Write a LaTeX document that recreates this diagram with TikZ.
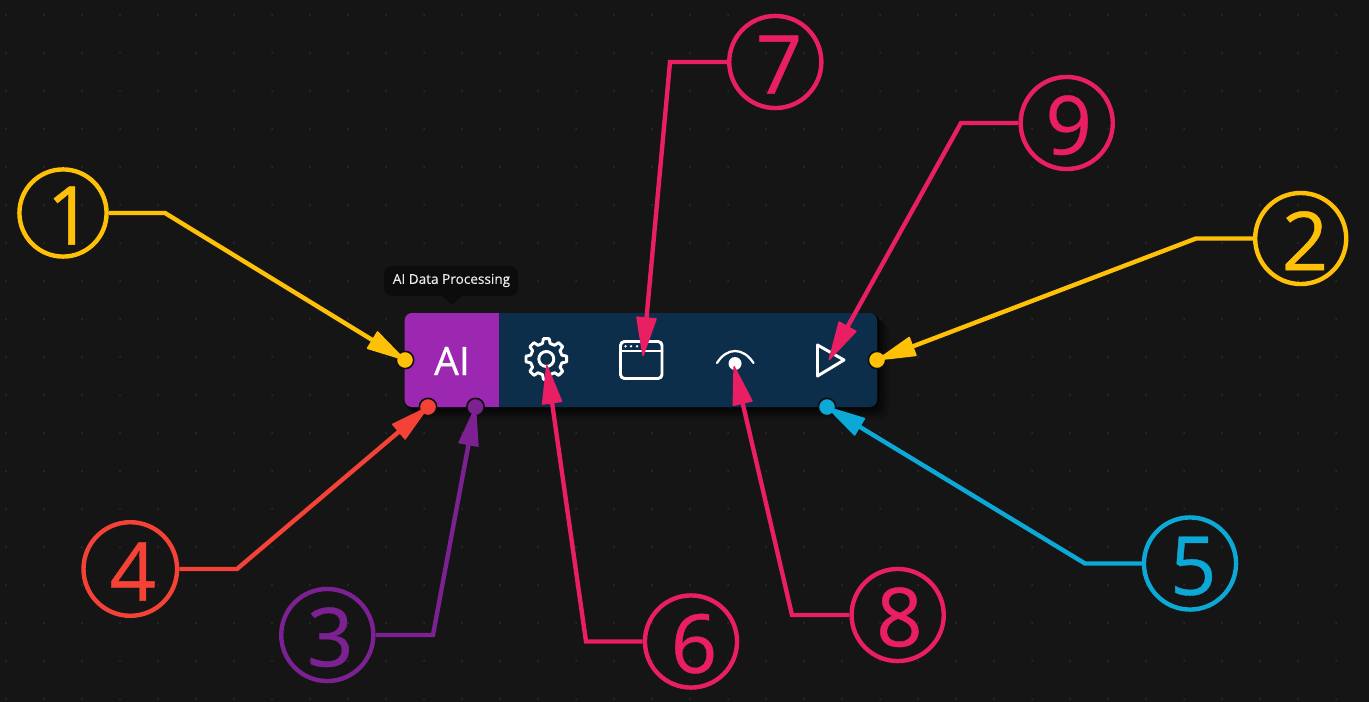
\documentclass[tikz,border=0pt]{standalone}
\usepackage{fontspec}
\setmainfont{Open Sans}
\newfontfamily\numfont[FakeBold=0.5]{Open Sans}
\newfontfamily\tipfont[FakeBold=0.25]{Open Sans}
\newfontfamily\aifont[FakeBold=0.6]{Open Sans}
\usetikzlibrary{arrows.meta}
\definecolor{bgc}{HTML}{151515}
\definecolor{gridc}{HTML}{2E2E2E}
\definecolor{yel}{HTML}{FFC107}
\definecolor{pnk}{HTML}{E91E63}
\definecolor{redc}{HTML}{F44336}
\definecolor{pur}{HTML}{7C2192}
\definecolor{blu}{HTML}{0CA8D6}
\definecolor{aic}{HTML}{9C27B0}
\definecolor{navy}{HTML}{0D2E4A}
\definecolor{tipc}{HTML}{0C0C0C}
% digit shifted right by #1 px and down by about 2.7 px inside its circle
\newcommand{\dgt}[2]{\hspace*{\dimexpr #1pt*3/2\relax}#2\rule{0pt}{47.5pt}}
\tikzset{
  num/.style={circle,draw=#1,text=#1,line width=3.3pt,minimum size=69.1pt,inner sep=0pt,font=\numfont\fontsize{61}{61}\selectfont},
  lead/.style={draw=#1,line width=3.3pt,line join=miter,-{Triangle[length=31pt,width=15.5pt,sep=0pt,round,line width=1.2pt]}},
  port/.style={circle,fill=#1,draw=black!30!bgc,line width=1.2pt,minimum size=13pt,inner sep=0pt},
  icon/.style={draw=white,line width=2.2pt,line join=round,line cap=round},
  target/.style={circle,minimum size=0pt,inner sep=0pt},
}
\begin{document}
\begin{tikzpicture}[x=0.75pt,y=-0.75pt]
\useasboundingbox (0,0) rectangle (1369,702);
\fill[bgc] (0,0) rectangle (1369,702);
\foreach \i in {0,...,35}{\foreach \j in {0,...,18}{
  \fill[gridc] ({6+38*\i},{15+38*\j}) circle[radius=1];
}}
% shadow
\foreach \s/\o in {12/.12,9/.18,6/.25,3/.35}{
  \fill[black,opacity=\o,rounded corners=7pt] ({404+\s-3},{313+\s-3}) rectangle ({877+\s},{407+\s});
}
% bar
\fill[navy,rounded corners=5.5pt] (404.6,313) rectangle (877,407);
\fill[aic,rounded corners=5.5pt] (404.6,313) rectangle (480,407);
\fill[aic] (440,313) rectangle (499,407);
\node[text=white,font=\aifont\fontsize{29.5}{30}\selectfont] (ai) at (452,361) {AI};
% tooltip
\fill[tipc,rounded corners=6pt] (384,266) rectangle (518,296);
\fill[tipc] (441,295) -- (452,305) -- (463,295) -- cycle;
\node[text=white!92!black,font=\tipfont\fontsize{10.2}{12}\selectfont] (tt) at (451.5,280.5) {AI Data Processing};
% gear
\begin{scope}[shift={(546.3,359)}]
\draw[icon] (-14:16) \foreach \a in {0,45,...,315}{ -- ({\a-14}:16) -- ({\a-8}:20.5) -- ({\a+8}:20.5) -- ({\a+14}:16) } -- cycle;
\draw[icon] (0,0) circle[radius=7.5];
\end{scope}
\node[target] (gear) at (546.7,365) {};
% window
\draw[icon,rounded corners=3pt] (620.5,341.5) rectangle (662,378.5);
\draw[icon] (620.5,351) -- (662,351);
\foreach \x in {625.5,631,637}{\fill[white] (\x,346.3) circle[radius=1.3];}
\node[target] (win) at (643,356) {};
% eye
\draw[icon,line width=1.7pt] (717,363) .. controls (727,347) and (743,347) .. (753.5,363);
\fill[white] (735,363.5) circle[radius=6.5];
\node[target] (eye) at (734,366) {};
% play
\draw[icon] (817.5,345) -- (844,360) -- (817.5,376) -- cycle;
\node[target] (play) at (829,360) {};
% ports
\node[port=yel] (p1) at (405,360) {};
\node[port=yel] (p2) at (877,360) {};
\node[port=pur] (p3) at (475.5,407) {};
\node[port=redc] (p4) at (428,407) {};
\node[port=blu] (p5) at (827,407) {};
% numbered circles
\node[num=yel,minimum size=65.3pt] (n1) at (63,213) {\dgt{6.7}{1}};
\node[num=yel,minimum size=68.3pt] (n2) at (1300.7,238.5) {\dgt{4.3}{2}};
\node[num=pur] (n3) at (327.3,635) {\dgt{3}{3}};
\node[num=redc,minimum size=70.2pt] (n4) at (130.3,569) {\dgt{2.5}{4}};
\node[num=blu] (n5) at (1190,563.5) {\dgt{3.3}{5}};
\node[num=pnk] (n6) at (691,641.5) {\dgt{3}{6}};
\node[num=pnk] (n7) at (775.3,62) {\dgt{3.7}{7}};
\node[num=pnk] (n8) at (897.7,615) {\dgt{1.7}{8}};
\node[num=pnk] (n9) at (1066.7,123) {\dgt{2}{9}};
% connectors
\coordinate (b1) at (165,213);
\coordinate (b2) at (1196,238.5);
\coordinate (b3) at (433,635);
\coordinate (b4) at (237,569);
\coordinate (b5) at (1085,563.5);
\coordinate (b6) at (586,641.5);
\coordinate (b7) at (670,62);
\coordinate (b8) at (792,615);
\coordinate (b9) at (961,123);
\draw[lead=yel] (n1.east) -- (b1) -- (p1.center);
\draw[lead=yel] (n2.west) -- (b2) -- (p2.center);
\draw[lead=pur] (n3.east) -- (b3) -- (p3.center);
\draw[lead=redc] (n4.east) -- (b4) -- (p4.center);
\draw[lead=blu] (n5.west) -- (b5) -- (p5.center);
\draw[lead=pnk] (n6.west) -- (b6) -- (gear.center);
\draw[lead=pnk] (n7.west) -- (b7) -- (win.center);
\draw[lead=pnk] (n8.west) -- (b8) -- (eye.center);
\draw[lead=pnk] (n9.west) -- (b9) -- (play.center);
\end{tikzpicture}
\end{document}
